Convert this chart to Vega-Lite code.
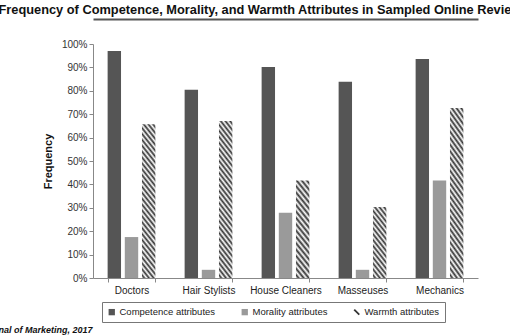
{
  "$schema": "https://vega.github.io/schema/vega-lite/v6.json",
  "width": 385,
  "height": 234,
  "autosize": {"type": "none"},
  "padding": {"left": 93, "top": 44, "right": 32, "bottom": 58},
  "background": "white",
  "config": {"view": {"stroke": null}, "font": "Liberation Sans"},
  "title": {"text": "Journal of Marketing, 2017", "orient": "bottom", "anchor": "start", "frame": "group", "dx": -114, "offset": 3, "fontSize": 9, "fontWeight": "bold", "fontStyle": "italic", "color": "#111", "font": "Liberation Sans"},
  "data": {"values": [
    {"category": "Doctors", "series": "Competence attributes", "value": 0.97},
    {"category": "Doctors", "series": "Morality attributes", "value": 0.175},
    {"category": "Doctors", "series": "Warmth attributes", "value": 0.657},
    {"category": "Hair Stylists", "series": "Competence attributes", "value": 0.804},
    {"category": "Hair Stylists", "series": "Morality attributes", "value": 0.035},
    {"category": "Hair Stylists", "series": "Warmth attributes", "value": 0.671},
    {"category": "House Cleaners", "series": "Competence attributes", "value": 0.902},
    {"category": "House Cleaners", "series": "Morality attributes", "value": 0.279},
    {"category": "House Cleaners", "series": "Warmth attributes", "value": 0.417},
    {"category": "Masseuses", "series": "Competence attributes", "value": 0.839},
    {"category": "Masseuses", "series": "Morality attributes", "value": 0.035},
    {"category": "Masseuses", "series": "Warmth attributes", "value": 0.303},
    {"category": "Mechanics", "series": "Competence attributes", "value": 0.936},
    {"category": "Mechanics", "series": "Morality attributes", "value": 0.417},
    {"category": "Mechanics", "series": "Warmth attributes", "value": 0.727}
  ]},
  "layer": [
    {
      "mark": {"type": "bar"},
      "encoding": {
        "x": {"field": "category", "type": "nominal", "sort": null,
          "scale": {"domain": ["Doctors", "Hair Stylists", "House Cleaners", "Masseuses", "Mechanics"], "paddingInner": 0.38, "paddingOuter": 0.19},
          "axis": {"title": null, "labelAngle": 0, "labelFontSize": 10, "labelColor": "#222", "labelFont": "Liberation Sans", "domainColor": "#888", "tickColor": "#888", "tickSize": 4, "tickBand": "extent", "labelPadding": 3}},
        "xOffset": {"field": "series", "type": "nominal",
          "scale": {"domain": ["Competence attributes", "Morality attributes", "Warmth attributes"], "paddingInner": 0.22, "paddingOuter": 0}},
        "y": {"field": "value", "type": "quantitative",
          "scale": {"domain": [0, 1], "nice": false},
          "axis": {"title": "Frequency", "format": ".0%", "values": [0, 0.1, 0.2, 0.3, 0.4, 0.5, 0.6, 0.7, 0.8, 0.9, 1], "grid": false, "labelFontSize": 10, "labelColor": "#333", "labelFont": "Liberation Sans", "domainColor": "#888", "tickColor": "#888", "tickSize": 4, "labelPadding": 2, "titleFontSize": 11, "titleFontWeight": "bold", "titleColor": "#111", "titleFont": "Liberation Sans", "titlePadding": 8}},
        "fill": {
          "field": "series", "type": "nominal",
          "scale": {
            "domain": ["Competence attributes", "Morality attributes", "Warmth attributes"],
            "range": ["#555555", "#9a9a9a", "#333333"]
          },
          "legend": {"orient": "none", "legendX": 9, "legendY": 258, "direction": "horizontal", "title": null, "columns": 3, "strokeColor": "#777", "padding": 5, "symbolSize": 40, "labelFontSize": 9.5, "labelColor": "#222", "labelFont": "Liberation Sans", "columnPadding": 24, "labelOffset": 3},
          "condition": [
            {"test": "datum.series === 'Warmth attributes' && datum.value < 0.35", "value": {"gradient": "linear", "x1": 1, "y1": 0, "x2": 0.7186, "y2": 1.1725, "stops": [
              {"offset": 0, "color": "#ffffff"}, {"offset": 0.03333, "color": "#333333"}, {"offset": 0.06667, "color": "#ffffff"}, {"offset": 0.1, "color": "#333333"}, {"offset": 0.13333, "color": "#ffffff"}, {"offset": 0.16667, "color": "#333333"}, {"offset": 0.2, "color": "#ffffff"}, {"offset": 0.23333, "color": "#333333"}, {"offset": 0.26667, "color": "#ffffff"}, {"offset": 0.3, "color": "#333333"}, {"offset": 0.33333, "color": "#ffffff"}, {"offset": 0.36667, "color": "#333333"}, {"offset": 0.4, "color": "#ffffff"}, {"offset": 0.43333, "color": "#333333"}, {"offset": 0.46667, "color": "#ffffff"}, {"offset": 0.5, "color": "#333333"}, {"offset": 0.53333, "color": "#ffffff"}, {"offset": 0.56667, "color": "#333333"}, {"offset": 0.6, "color": "#ffffff"}, {"offset": 0.63333, "color": "#333333"}, {"offset": 0.66667, "color": "#ffffff"}, {"offset": 0.7, "color": "#333333"}, {"offset": 0.73333, "color": "#ffffff"}, {"offset": 0.76667, "color": "#333333"}, {"offset": 0.8, "color": "#ffffff"}, {"offset": 0.83333, "color": "#333333"}, {"offset": 0.86667, "color": "#ffffff"}, {"offset": 0.9, "color": "#333333"}, {"offset": 0.93333, "color": "#ffffff"}, {"offset": 0.96667, "color": "#333333"}, {"offset": 1, "color": "#ffffff"}]}},
            {"test": "datum.series === 'Warmth attributes' && datum.value < 0.5", "value": {"gradient": "linear", "x1": 1, "y1": 0, "x2": 0.8067, "y2": 1.1371, "stops": [
              {"offset": 0, "color": "#ffffff"}, {"offset": 0.02778, "color": "#333333"}, {"offset": 0.05556, "color": "#ffffff"}, {"offset": 0.08333, "color": "#333333"}, {"offset": 0.11111, "color": "#ffffff"}, {"offset": 0.13889, "color": "#333333"}, {"offset": 0.16667, "color": "#ffffff"}, {"offset": 0.19444, "color": "#333333"}, {"offset": 0.22222, "color": "#ffffff"}, {"offset": 0.25, "color": "#333333"}, {"offset": 0.27778, "color": "#ffffff"}, {"offset": 0.30556, "color": "#333333"}, {"offset": 0.33333, "color": "#ffffff"}, {"offset": 0.36111, "color": "#333333"}, {"offset": 0.38889, "color": "#ffffff"}, {"offset": 0.41667, "color": "#333333"}, {"offset": 0.44444, "color": "#ffffff"}, {"offset": 0.47222, "color": "#333333"}, {"offset": 0.5, "color": "#ffffff"}, {"offset": 0.52778, "color": "#333333"}, {"offset": 0.55556, "color": "#ffffff"}, {"offset": 0.58333, "color": "#333333"}, {"offset": 0.61111, "color": "#ffffff"}, {"offset": 0.63889, "color": "#333333"}, {"offset": 0.66667, "color": "#ffffff"}, {"offset": 0.69444, "color": "#333333"}, {"offset": 0.72222, "color": "#ffffff"}, {"offset": 0.75, "color": "#333333"}, {"offset": 0.77778, "color": "#ffffff"}, {"offset": 0.80556, "color": "#333333"}, {"offset": 0.83333, "color": "#ffffff"}, {"offset": 0.86111, "color": "#333333"}, {"offset": 0.88889, "color": "#ffffff"}, {"offset": 0.91667, "color": "#333333"}, {"offset": 0.94444, "color": "#ffffff"}, {"offset": 0.97222, "color": "#333333"}, {"offset": 1, "color": "#ffffff"}]}},
            {"test": "datum.series === 'Warmth attributes'", "value": {"gradient": "linear", "x1": 1, "y1": 0, "x2": 0.8794, "y2": 1.0967, "stops": [
              {"offset": 0, "color": "#ffffff"}, {"offset": 0.01724, "color": "#333333"}, {"offset": 0.03448, "color": "#ffffff"}, {"offset": 0.05172, "color": "#333333"}, {"offset": 0.06897, "color": "#ffffff"}, {"offset": 0.08621, "color": "#333333"}, {"offset": 0.10345, "color": "#ffffff"}, {"offset": 0.12069, "color": "#333333"}, {"offset": 0.13793, "color": "#ffffff"}, {"offset": 0.15517, "color": "#333333"}, {"offset": 0.17241, "color": "#ffffff"}, {"offset": 0.18966, "color": "#333333"}, {"offset": 0.2069, "color": "#ffffff"}, {"offset": 0.22414, "color": "#333333"}, {"offset": 0.24138, "color": "#ffffff"}, {"offset": 0.25862, "color": "#333333"}, {"offset": 0.27586, "color": "#ffffff"}, {"offset": 0.2931, "color": "#333333"}, {"offset": 0.31034, "color": "#ffffff"}, {"offset": 0.32759, "color": "#333333"}, {"offset": 0.34483, "color": "#ffffff"}, {"offset": 0.36207, "color": "#333333"}, {"offset": 0.37931, "color": "#ffffff"}, {"offset": 0.39655, "color": "#333333"}, {"offset": 0.41379, "color": "#ffffff"}, {"offset": 0.43103, "color": "#333333"}, {"offset": 0.44828, "color": "#ffffff"}, {"offset": 0.46552, "color": "#333333"}, {"offset": 0.48276, "color": "#ffffff"}, {"offset": 0.5, "color": "#333333"}, {"offset": 0.51724, "color": "#ffffff"}, {"offset": 0.53448, "color": "#333333"}, {"offset": 0.55172, "color": "#ffffff"}, {"offset": 0.56897, "color": "#333333"}, {"offset": 0.58621, "color": "#ffffff"}, {"offset": 0.60345, "color": "#333333"}, {"offset": 0.62069, "color": "#ffffff"}, {"offset": 0.63793, "color": "#333333"}, {"offset": 0.65517, "color": "#ffffff"}, {"offset": 0.67241, "color": "#333333"}, {"offset": 0.68966, "color": "#ffffff"}, {"offset": 0.7069, "color": "#333333"}, {"offset": 0.72414, "color": "#ffffff"}, {"offset": 0.74138, "color": "#333333"}, {"offset": 0.75862, "color": "#ffffff"}, {"offset": 0.77586, "color": "#333333"}, {"offset": 0.7931, "color": "#ffffff"}, {"offset": 0.81034, "color": "#333333"}, {"offset": 0.82759, "color": "#ffffff"}, {"offset": 0.84483, "color": "#333333"}, {"offset": 0.86207, "color": "#ffffff"}, {"offset": 0.87931, "color": "#333333"}, {"offset": 0.89655, "color": "#ffffff"}, {"offset": 0.91379, "color": "#333333"}, {"offset": 0.93103, "color": "#ffffff"}, {"offset": 0.94828, "color": "#333333"}, {"offset": 0.96552, "color": "#ffffff"}, {"offset": 0.98276, "color": "#333333"}, {"offset": 1, "color": "#ffffff"}]}}
          ]
        }
      }
    },
    {
      "transform": [{"filter": "false"}],
      "mark": {"type": "point", "filled": true, "opacity": 1},
      "encoding": {
        "x": {"field": "category", "type": "nominal", "sort": null,
          "axis": {"orient": "top", "labels": false, "ticks": false, "domain": true, "domainColor": "#555", "domainWidth": 2, "offset": 25,
            "title": "Frequency of Competence, Morality, and Warmth Attributes in Sampled Online Reviews",
            "titleFontSize": 12.8, "titleFontWeight": "bold", "titleColor": "#111", "titleFont": "Liberation Sans", "titleAlign": "left", "titleX": -95, "titleY": -6, "titleBaseline": "alphabetic", "titleLimit": 2000, "titleAngle": 0}},
        "fill": {"field": "series", "type": "nominal",
          "legend": {"orient": "none", "legendX": 9, "legendY": 258, "direction": "horizontal", "title": null, "columns": 3, "strokeColor": "#777", "padding": 5, "symbolSize": 40, "labelFontSize": 9.5, "labelColor": "#222", "labelFont": "Liberation Sans", "columnPadding": 24, "labelOffset": 3}},
        "shape": {"field": "series", "type": "nominal",
          "scale": {"domain": ["Competence attributes", "Morality attributes", "Warmth attributes"], "range": ["square", "square", "M-1,-0.6L-0.6,-1L1,0.6L0.6,1Z"]},
          "legend": {"orient": "none", "legendX": 9, "legendY": 258, "direction": "horizontal", "title": null, "columns": 3, "strokeColor": "#777", "padding": 5, "symbolSize": 40, "labelFontSize": 9.5, "labelColor": "#222", "labelFont": "Liberation Sans", "columnPadding": 24, "labelOffset": 3}}
      }
    }
  ],
  "resolve": {"axis": {"x": "independent"}}
}
